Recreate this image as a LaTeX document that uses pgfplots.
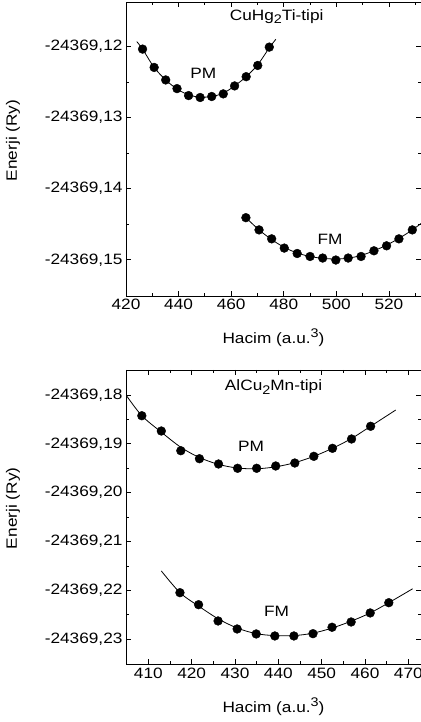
\documentclass[border=0pt]{standalone}
\usepackage{fontspec}
\setmainfont{Liberation Sans}[FakeStretch=1.15]
\usepackage{pgfplots}
\pgfplotsset{compat=1.18}
\newcommand{\lblfont}{\fontsize{15bp}{18bp}\selectfont}
\newcommand{\sub}[1]{\raisebox{-0.45ex}{\fontsize{12.5bp}{13bp}\selectfont #1}}
\newcommand{\sups}[1]{\raisebox{0.75ex}{\fontsize{12.5bp}{13bp}\selectfont #1}}
\pgfplotsset{
  myax/.style={
    scale only axis,
    anchor=south west,
    width=295bp,
    axis line style={line width=0.9bp},
    tick align=inside,
    major tick length=5bp,
    minor tick length=3bp,
    every tick/.style={black, line width=0.8bp},
    tick label style={font=\lblfont},
    label style={font=\lblfont},
    /pgf/number format/assume math mode=true,
    minor x tick num=1,
    minor y tick num=1,
    scaled y ticks=false,
    x label style={at={(axis description cs:0.5,0)}, anchor=center, yshift=-42bp},
    y label style={at={(axis description cs:-0.383,0.53)}, anchor=center},
    xlabel={Hacim (a.u.\sups{3})},
    ylabel={Enerji (Ry)},
    clip=true,
  },
  fitline/.style={black, line width=0.8bp, smooth, no marks},
  pts/.style={only marks, mark=*, mark size=4.4bp, mark options={fill=black, draw=black}},
}
\begin{document}
\begin{tikzpicture}[x=1bp,y=1bp]
\useasboundingbox (0,0) rectangle (420,722);
% ---------- top panel ----------
\begin{axis}[myax,
  at={(126bp,426bp)}, height=293.5bp,
  xmin=420, xmax=532.2, xtick distance=20,
  ymin=-0.1551, ymax=-0.1138,
  ytick={-0.15,-0.14,-0.13,-0.12},
  yticklabels={{-24369,15},{-24369,14},{-24369,13},{-24369,12}},
]
\addplot[fitline] coordinates {
(424.1,-0.11930) (426.3,-0.12036) (430.7,-0.12294) (435.1,-0.12470) (439.4,-0.12598)
(443.8,-0.12680) (448.2,-0.12712) (452.6,-0.12703) (457.0,-0.12656) (461.3,-0.12554)
(465.7,-0.12424) (470.1,-0.12256) (474.5,-0.12018) (477.0,-0.11897)};
\addplot[pts] coordinates {
(426.3,-0.12036) (430.7,-0.12294) (435.1,-0.12470) (439.4,-0.12592) (443.8,-0.12690)
(448.2,-0.12717) (452.6,-0.12703) (457.0,-0.12666) (461.3,-0.12554) (465.7,-0.12424)
(470.1,-0.12266) (474.5,-0.12008)};
\addplot[fitline] coordinates {
(465.6,-0.14408) (470.6,-0.14580) (475.4,-0.14716) (480.2,-0.14826) (485.1,-0.14905)
(490.0,-0.14954) (494.8,-0.14980) (499.8,-0.14990) (504.5,-0.14978) (509.4,-0.14940)
(514.3,-0.14874) (519.1,-0.14794) (523.8,-0.14700) (528.9,-0.14580) (534.0,-0.14440)};
\addplot[pts] coordinates {
(465.6,-0.14408) (470.6,-0.14580) (475.4,-0.14706) (480.2,-0.14836) (485.1,-0.14912)
(490.0,-0.14954) (494.8,-0.14976) (499.8,-0.15004) (504.5,-0.14976) (509.4,-0.14954)
(514.3,-0.14874) (519.1,-0.14804) (523.8,-0.14706) (528.9,-0.14580)};
\node[font=\lblfont] at (axis cs:449.4,-0.12374) {PM};
\node[font=\lblfont] at (axis cs:497.6,-0.14719) {FM};
\node[font=\lblfont] at (axis cs:477.3,-0.11578) {CuHg\sub{2}Ti-tipi};
\end{axis}
% ---------- bottom panel ----------
\begin{axis}[myax,
  at={(126bp,57.7bp)}, height=294.3bp,
  xmin=404.85, xmax=472.93, xtick distance=10,
  ymin=-0.23512, ymax=-0.17488,
  ytick={-0.23,-0.22,-0.21,-0.20,-0.19,-0.18},
  yticklabels={{-24369,23},{-24369,22},{-24369,21},{-24369,20},{-24369,19},{-24369,18}},
]
\addplot[fitline] coordinates {
(404.85,-0.18000) (408.5,-0.18424) (413.0,-0.18760) (417.5,-0.19070) (421.8,-0.19280)
(426.2,-0.19420) (430.6,-0.19495) (435.0,-0.19510) (439.4,-0.19470) (443.8,-0.19385)
(448.2,-0.19255) (452.5,-0.19091) (456.9,-0.18890) (461.3,-0.18640) (467.1,-0.18307)};
\addplot[pts] coordinates {
(408.5,-0.18424) (413.0,-0.18737) (417.5,-0.19140) (421.8,-0.19304) (426.2,-0.19412)
(430.6,-0.19500) (435.0,-0.19500) (439.4,-0.19453) (443.8,-0.19392) (448.2,-0.19255)
(452.5,-0.19091) (456.9,-0.18900) (461.3,-0.18640)};
\addplot[fitline] coordinates {
(413.0,-0.21601) (417.3,-0.22046) (421.6,-0.22320) (426.1,-0.22580) (430.5,-0.22770)
(434.9,-0.22885) (439.2,-0.22925) (443.6,-0.22925) (448.0,-0.22875) (452.4,-0.22770)
(456.8,-0.22630) (461.2,-0.22461) (465.5,-0.22251) (471.0,-0.21966)};
\addplot[pts] coordinates {
(417.3,-0.22046) (421.6,-0.22292) (426.1,-0.22625) (430.5,-0.22789) (434.9,-0.22891)
(439.2,-0.22932) (443.6,-0.22932) (448.0,-0.22885) (452.4,-0.22754) (456.8,-0.22646)
(461.2,-0.22461) (465.5,-0.22251)};
\node[font=\lblfont] at (axis cs:433.7,-0.19044) {PM};
\node[font=\lblfont] at (axis cs:439.6,-0.22421) {FM};
\node[font=\lblfont] at (axis cs:438.9,-0.17842) {AlCu\sub{2}Mn-tipi};
\end{axis}
\end{tikzpicture}
\end{document}
